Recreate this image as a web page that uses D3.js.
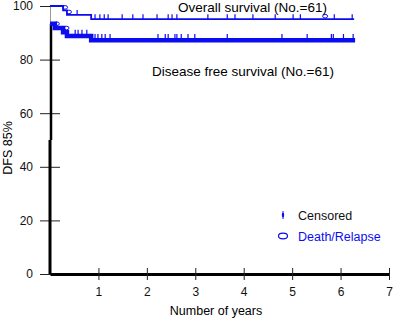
<!DOCTYPE html>
<html>
<head>
<meta charset="utf-8">
<script src="https://cdn.jsdelivr.net/npm/d3@7"></script>
<style>
  body { margin: 0; background: #fff; }
  text { font-family: Arial, "Liberation Sans", sans-serif; }
</style>
</head>
<body>
<div id="chart"></div>
<script>
const BLUE = "#0c0cf0";

// overall survival steps: [year, survival %]
const osSteps = [[0, 100], [0.27, 98.4], [0.35, 96.7], [0.85, 95.1], [6.28, 95.1]];
const osCensored = [0.56, 0.93, 1.03, 1.12, 1.2, 1.49, 1.71, 1.92, 2.21, 2.44, 2.52, 2.62,
  3.26, 3.66, 3.82, 4.19, 4.65, 5.02, 5.17, 5.87, 6.24];
const osEvents = [0.27, 0.35, 5.64];

// disease free survival steps
const dfsSteps = [[0, 93.4], [0.1, 91.8], [0.27, 90.2], [0.35, 88.8], [0.85, 87.2], [6.3, 87.2]];
const dfsCensored = [0.52, 0.58, 0.66, 0.76, 0.93, 0.99, 1.07, 1.14, 1.24, 2.23, 2.38, 2.44,
  2.58, 2.62, 2.71, 2.85, 2.99, 3.66, 4.79, 5.31, 5.81, 5.85, 6.06, 6.26];
const dfsEvents = [0.1, 0.3];

const xTicks = [1, 2, 3, 4, 5, 6, 7];
const yTicks = [0, 20, 40, 60, 80, 100];

const width = 394, height = 318;
const x = d3.scaleLinear().domain([0, 7]).range([50, 389]);
const y = d3.scaleLinear().domain([0, 100]).range([274, 6]);

const svg = d3.select("#chart").append("svg")
  .attr("width", width)
  .attr("height", height);

// y axis
const yAxis = svg.append("g")
  .attr("transform", "translate(50,0)")
  .call(d3.axisLeft(y).tickValues(yTicks).tickFormat(d3.format("d")).tickSize(10).tickSizeOuter(0));
yAxis.select(".domain").attr("stroke", "#999").attr("stroke-width", 1);
yAxis.selectAll(".tick line").attr("x1", 10).attr("x2", -10).attr("stroke", "#222");
yAxis.selectAll(".tick text").attr("x", -17).attr("font-size", 12).attr("fill", "#111");

svg.append("line")
  .attr("x1", 50).attr("x2", 50)
  .attr("y1", y(0)).attr("y2", y(50))
  .attr("stroke", "#000").attr("stroke-width", 3);
svg.append("line")
  .attr("x1", 51).attr("x2", 51)
  .attr("y1", y(50)).attr("y2", y(dfsSteps[0][1]))
  .attr("stroke", "#000").attr("stroke-width", 2.5);

// x axis
const xAxis = svg.append("g")
  .attr("transform", `translate(0,${y(0)})`)
  .call(d3.axisBottom(x).tickValues(xTicks).tickFormat(d3.format("d")).tickSize(6).tickSizeOuter(0));
xAxis.select(".domain").attr("stroke", "#000").attr("stroke-width", 3);
xAxis.selectAll(".tick line").attr("y1", -6).attr("y2", 6).attr("stroke", "#222");
xAxis.selectAll(".tick text").attr("y", 13).attr("font-size", 12).attr("fill", "#111");

svg.append("text")
  .attr("x", 216).attr("y", 315)
  .attr("text-anchor", "middle")
  .attr("font-size", 12.5)
  .text("Number of years");

svg.append("text")
  .attr("transform", "translate(12,148) rotate(-90)")
  .attr("text-anchor", "middle")
  .attr("font-size", 12.5)
  .text("DFS 85%");

const step = d3.line()
  .x(d => x(d[0]))
  .y(d => y(d[1]))
  .curve(d3.curveStepAfter);

function valueAt(steps, t) {
  let v = steps[0][1];
  steps.forEach(s => { if (s[0] <= t) v = s[1]; });
  return v;
}

function drawCurve(steps, censored, events, lw) {
  svg.append("path")
    .datum(steps)
    .attr("d", step)
    .attr("fill", "none")
    .attr("stroke", BLUE)
    .attr("stroke-width", lw);

  svg.append("g").selectAll("line")
    .data(censored)
    .join("line")
    .attr("x1", d => x(d)).attr("x2", d => x(d))
    .attr("y1", d => y(valueAt(steps, d)))
    .attr("y2", d => y(valueAt(steps, d)) - lw / 2 - 4)
    .attr("stroke", BLUE)
    .attr("stroke-width", 1.2);

  svg.append("g").selectAll("ellipse")
    .data(events)
    .join("ellipse")
    .attr("cx", d => x(d) + 2)
    .attr("cy", d => y(valueAt(steps, d)) - lw / 2 - 2)
    .attr("rx", 2.5).attr("ry", 1.8)
    .attr("fill", "none")
    .attr("stroke", BLUE)
    .attr("stroke-width", 1);
}

drawCurve(dfsSteps, dfsCensored, dfsEvents, 4.5);
drawCurve(osSteps, osCensored, osEvents, 1.8);

svg.append("text")
  .attr("x", 178).attr("y", 12)
  .attr("font-size", 13.5)
  .text("Overall survival (No.=61)");

svg.append("text")
  .attr("x", 152).attr("y", 76)
  .attr("font-size", 13.5)
  .text("Disease free survival (No.=61)");

// legend
const legend = svg.append("g");
legend.append("line")
  .attr("x1", 283).attr("x2", 283)
  .attr("y1", 211).attr("y2", 219)
  .attr("stroke", BLUE).attr("stroke-width", 1);
legend.append("ellipse")
  .attr("cx", 283).attr("cy", 215)
  .attr("rx", 1.2).attr("ry", 2.2)
  .attr("fill", BLUE);
legend.append("text")
  .attr("x", 298).attr("y", 219.5)
  .attr("font-size", 12.5)
  .attr("fill", "#111")
  .text("Censored");
legend.append("ellipse")
  .attr("cx", 283).attr("cy", 236)
  .attr("rx", 4.5).attr("ry", 2.8)
  .attr("fill", "none")
  .attr("stroke", BLUE).attr("stroke-width", 1.2);
legend.append("text")
  .attr("x", 298).attr("y", 240.5)
  .attr("font-size", 12.5)
  .attr("fill", BLUE)
  .text("Death/Relapse");
</script>
</body>
</html>
